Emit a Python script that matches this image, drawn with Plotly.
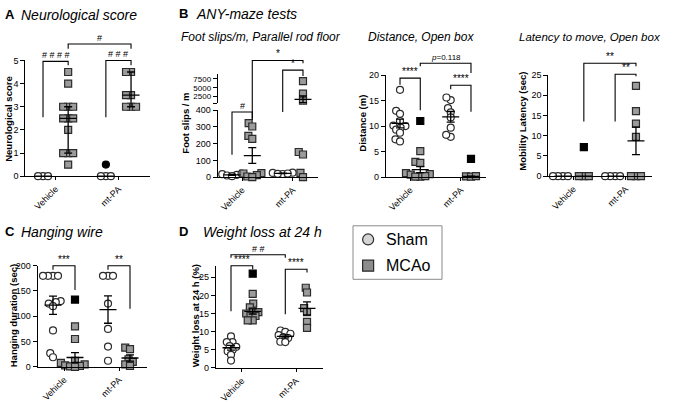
import numpy as np
import plotly.graph_objects as go

W, H = 673, 403
FONT = "Liberation Sans, Arial, sans-serif"

# ---------------- data ----------------
groups = ["Vehicle", "mt-PA"]

neuro_veh_sham = [0, 0, 0]
neuro_veh_mcao = [4.5, 4, 3, 3, 3, 2.5, 2.5, 2.5, 2, 1, 1, 1, 0.5]
neuro_tpa_sham = [0, 0, 0]
neuro_tpa_sham_out = [0.5]
neuro_tpa_mcao = [4.5, 4.5, 3.5, 3.5, 3, 3, 3]

foot_veh_sham = [18, 10, 14, 22, 6]
foot_veh_mcao = [322, 302, 246, 228, 24, 22, 12, 4, 0]
foot_tpa_sham = [25, 19, 27, 20, 22]
foot_tpa_mcao = [6900, 3300, 1300, 150, 135, 25, 0]

dist_veh_sham = [17.1, 13.0, 12.4, 11.0, 10.1, 10.0, 9.7, 9.3, 8.7, 7.4, 7.0]
dist_veh_mcao = [5.1, 3.0, 2.8, 0.8, 0.5, 0.6, 0.1, 0.2, 0.1]
dist_veh_mcao_out = [11.0]
dist_tpa_sham = [15.1, 15.6, 13.5, 12.7, 11.7, 9.7, 7.9, 8.3]
dist_tpa_mcao = [0.15, 0.1, 0.2]
dist_tpa_mcao_out = [3.6]

lat_veh_sham = [0, 0, 0, 0]
lat_veh_mcao = [0, 0, 0]
lat_veh_mcao_out = [7.2]
lat_tpa_sham = [0, 0, 0, 0]
lat_tpa_mcao = [22.3, 16.1, 13.0, 9.7, 0, 0, 0]

hang_veh_sham = [180, 180, 180, 180, 130, 128, 125, 120, 72, 27, 19]
hang_veh_mcao = [80, 55, 12, 8, 5, 3, 2, 1, 0]
hang_veh_mcao_out = [133]
hang_tpa_sham = [180, 180, 180, 125, 75, 40, 12]
hang_tpa_mcao = [38, 35, 15, 10, 5, 2]

wl_veh_sham = [8.7, 7.1, 7.1, 6.0, 5.8, 4.9, 4.6, 3.6, 2.0]
wl_veh_mcao = [20.4, 17.7, 16.7, 15.6, 15.4, 15.0, 14.3, 14.3, 13.1, 13.1]
wl_veh_mcao_out = [26.0]
wl_tpa_sham = [10.3, 9.9, 9.4, 9.0, 8.5, 8.2, 7.2, 7.1]
wl_tpa_mcao = [22.1, 20.8, 16.5, 15.4, 12.7, 11.0]

# ---------------- layout config ----------------
POS = [1.0, 2.0, 3.5, 4.5]
XR = [0.3, 5.25]
GROUP_TICKS = [1.5, 4.0]

panels = {
    'A': dict(x='x', y='y', xd=(25.4, 149.9), yd=(57, 176), yr=(0, 5), tv=[0, 1, 2, 3, 4, 5], stat='median',
              ylab="Neurological score", ylab_pos=(9, 117),
              data=[(neuro_veh_sham, [], 's'), (neuro_veh_mcao, [], 'm'),
                    (neuro_tpa_sham, neuro_tpa_sham_out, 's'), (neuro_tpa_mcao, [], 'm')]),
    'F': dict(x='x2', y='y2', xd=(217.8, 318.2), yd=(108, 177), yr=(0, 400), tv=[0, 100, 200, 300, 400], stat='mean',
              y_up='y3', yd_up=(71, 101), yr_up=(560, 8900), tv_up=[560, 2500, 5000, 7500],
              ylab="Foot slips / m", ylab_pos=(186, 122),
              data=[(foot_veh_sham, [], 's'), (foot_veh_mcao, [], 'm'),
                    (foot_tpa_sham, [], 's'), (foot_tpa_mcao, [], 'm')]),
    'Di': dict(x='x3', y='y4', xd=(385.8, 486.2), yd=(72, 177), yr=(0, 20), tv=[0, 5, 10, 15, 20], stat='mean',
               ylab="Distance (m)", ylab_pos=(363, 122),
               data=[(dist_veh_sham, [], 's'), (dist_veh_mcao, dist_veh_mcao_out, 'm'),
                     (dist_tpa_sham, [], 's'), (dist_tpa_mcao, dist_tpa_mcao_out, 'm')]),
    'L': dict(x='x4', y='y5', xd=(548.4, 651.6), yd=(72, 176), yr=(0, 25), tv=[0, 5, 10, 15, 20, 25], stat='mean',
              ylab="Mobility Latency (sec)", ylab_pos=(523, 120),
              data=[(lat_veh_sham, [], 's'), (lat_veh_mcao, lat_veh_mcao_out, 'm'),
                    (lat_tpa_sham, [], 's'), (lat_tpa_mcao, [], 'm')]),
    'C': dict(x='x5', y='y6', xd=(37.6, 146.5), yd=(268, 372), yr=(0, 200), tv=[0, 50, 100, 150, 200], stat='mean',
              ylab="Hanging duration (sec)", ylab_pos=(13, 320),
              data=[(hang_veh_sham, [], 's'), (hang_veh_mcao, hang_veh_mcao_out, 'm'),
                    (hang_tpa_sham, [], 's'), (hang_tpa_mcao, [], 'm')]),
    'W': dict(x='x6', y='y7', xd=(215.8, 323.3), yd=(268, 373), yr=(0, 28.2), tv=[0, 5, 10, 15, 20, 25], stat='mean',
              ylab="Weight loss at 24 h (%)", ylab_pos=(195, 320),
              data=[(wl_veh_sham, [], 's'), (wl_veh_mcao, wl_veh_mcao_out, 'm'),
                    (wl_tpa_sham, [], 's'), (wl_tpa_mcao, [], 'm')]),
}

# brackets: (panel, x1, x2, y_left_bottom, y_top, y_right_bottom, label, fontsize)
brackets = [
    ('A', 1, 2, 2.55, 4.96, 4.79, "# # # #", 9),
    ('A', 3.5, 4.5, 2.55, 5.0, 4.79, "# # #", 9),
    ('A', 2, 4.5, 5.5, 5.71, 5.5, "#", 9),
    ('F', 1, 2, 133, 388, 348, "#", 9),
    ('F', 3.5, 4.5, 388, ('up', 10012), ('up', 8344), "*", 10),
    ('F', 2, 4.5, 342, ('up', 12792), ('up', 12000), "*", 10),
    ('Di', 1, 2, 18.1, 19.4, 13.1, "****", 10),
    ('Di', 3.5, 4.5, 17.2, 18.0, 12.8, "****", 10),
    ('Di', 2, 4.5, 21.7, 22.3, 20.4, "<i>p</i>=0.118", 8),
    ('L', 2, 4.5, 13.5, 27.9, 27.2, "**", 10),
    ('L', 3.5, 4.5, 13.5, 25.2, 24.7, "**", 10),
    ('C', 1, 2, 192, 200, 152, "***", 10),
    ('C', 3.5, 4.5, 192, 200, 115, "**", 10),
    ('W', 1, 2, 15.6, 28.2, 27.2, "****", 10),
    ('W', 3.5, 4.5, 14.8, 27.2, 26.3, "****", 10),
    ('W', 1, 3.5, 30.4, 31.2, 30.4, "# #", 9),
]

SHAM_FILL = "white"
MCAO_FILL = "#9b9b9b"
EDGE = "#2b2b2b"
MS = 7
SWARM_D = 5.0


def ypx(p, v, up=False):
    if up or ('y_up' in p and v > p['yr'][1]):
        lo, hi = p['yr_up']; top, bot = p['yd_up']
    else:
        lo, hi = p['yr']; top, bot = p['yd']
    return bot - (v - lo) / (hi - lo) * (bot - top)


def yaxis_for(p, v):
    if 'y_up' in p and v > p['yr'][1]:
        return p['y_up']
    return p['y']


def spec_px(p, s):
    if isinstance(s, tuple):
        return ypx(p, s[1], up=True)
    return ypx(p, s)


def swarm(vals, p, d):
    order = sorted(range(len(vals)), key=lambda i: vals[i])
    placed = []
    offs = [0.0] * len(vals)
    for i in order:
        y = ypx(p, vals[i])
        cands = [0.0]
        for (qx, qy) in placed:
            dy = abs(qy - y)
            if dy < d:
                dx = (d * d - dy * dy) ** 0.5
                cands += [qx + dx, qx - dx]
        cands.sort(key=lambda c: (abs(c), c))
        chosen = cands[-1]
        for c in cands:
            if all((c - qx) ** 2 + (y - qy) ** 2 >= d * d - 1e-6 for qx, qy in placed):
                chosen = c
                break
        placed.append((chosen, y))
        offs[i] = chosen
    return offs


fig = go.Figure()
shapes = []
annotations = []


def line_trace(p, xs, ys, yaxis):
    fig.add_trace(go.Scatter(x=xs, y=ys, xaxis=p['x'], yaxis=yaxis, mode='lines',
                             line=dict(color='black', width=1.3), hoverinfo='skip',
                             showlegend=False, cliponaxis=False))


for key, p in panels.items():
    sx = (p['xd'][1] - p['xd'][0]) / (XR[1] - XR[0])
    # points
    for gi, (vals, outl, kind) in enumerate(p['data']):
        allv = list(vals) + list(outl)
        flags = [False] * len(vals) + [True] * len(outl)
        offs = swarm(allv, p, SWARM_D)
        buckets = {}
        for v, o, f in zip(allv, offs, flags):
            k = (yaxis_for(p, v), f)
            buckets.setdefault(k, ([], []))
            buckets[k][0].append(POS[gi] + o / sx)
            buckets[k][1].append(v)
        for (ya, f), (xs, ys) in buckets.items():
            fill = 'black' if f else (SHAM_FILL if kind == 's' else MCAO_FILL)
            fig.add_trace(go.Scatter(
                x=xs, y=ys, xaxis=p['x'], yaxis=ya, mode='markers', cliponaxis=False,
                marker=dict(symbol='circle' if kind == 's' else 'square', size=MS, color=fill,
                            line=dict(color=EDGE if not f else 'black', width=1.2)),
                hoverinfo='skip', showlegend=False))
    # summary lines
    for gi, (vals, outl, kind) in enumerate(p['data']):
        v = np.array(vals, dtype=float)
        if p['stat'] == 'median':
            c = np.median(v)
            lo = np.percentile(v, 25, method='weibull')
            hi = np.percentile(v, 75, method='weibull')
        else:
            c = v.mean()
            sem = v.std(ddof=1) / np.sqrt(len(v))
            lo, hi = c - sem, c + sem
        ya = yaxis_for(p, c)
        x0 = POS[gi]
        mw = 8.5 / sx
        cw = 4.0 / sx
        line_trace(p, [x0 - mw, x0 + mw], [c, c], ya)
        if hi - lo > 0:
            line_trace(p, [x0, x0], [max(lo, 0), hi], ya)
            line_trace(p, [x0 - cw, x0 + cw], [hi, hi], ya)
            if lo >= 0:
                line_trace(p, [x0 - cw, x0 + cw], [lo, lo], ya)

# brackets
for (key, x1, x2, yl, yt, yr_, label, fs) in brackets:
    p = panels[key]
    pl, pt, pr = spec_px(p, yl), spec_px(p, yt), spec_px(p, yr_)
    path = f"M {x1},{1 - pl / H} L {x1},{1 - pt / H} L {x2},{1 - pt / H} L {x2},{1 - pr / H}"
    shapes.append(dict(type='path', path=path, xref=p['x'], yref='paper',
                       line=dict(color='black', width=1.1)))
    annotations.append(dict(x=(x1 + x2) / 2, y=1 - pt / H, xref=p['x'], yref='paper', text=label,
                            showarrow=False, xanchor='center', yanchor='bottom', yshift=-1,
                            font=dict(size=fs, color='black', family=FONT)))


def ann_px(text, x, y, size, xanchor='left', yanchor='middle', angle=0, color='black'):
    annotations.append(dict(x=x / W, y=1 - y / H, xref='paper', yref='paper', text=text,
                            showarrow=False, xanchor=xanchor, yanchor=yanchor, textangle=angle,
                            font=dict(size=size, color=color, family=FONT)))


titles = [("<b>A</b>", 3, 10, 13), ("<i>Neurological score</i>", 19, 10, 14),
          ("<b>B</b>", 177, 9, 13), ("<i>ANY-maze tests</i>", 194, 9, 14),
          ("<i>Foot slips/m, Parallel rod floor</i>", 179, 33, 12),
          ("<i>Distance, Open box</i>", 366, 33, 12),
          ("<i>Latency to move, Open box</i>", 517, 33, 11.5),
          ("<b>C</b>", 3, 233, 13), ("<i>Hanging wire</i>", 19, 233, 14),
          ("<b>D</b>", 177, 233, 13), ("<i>Weight loss at 24 h</i>", 201, 233, 14)]
for t, x, y, s in titles:
    ann_px(t, x, y, s)

for key, p in panels.items():
    ann_px("<b>" + p['ylab'] + "</b>", p['ylab_pos'][0], p['ylab_pos'][1], 9.5, xanchor='center', angle=-90)

# legend (hidden helper axes)
LEG = dict(x0=353, x1=442, y0=227, y1=282)
shapes.append(dict(type='rect', xref='paper', yref='paper', x0=LEG['x0'] / W, x1=LEG['x1'] / W,
                   y0=1 - LEG['y1'] / H, y1=1 - LEG['y0'] / H, line=dict(color='#8a8a8a', width=1)))
legend_items = ["Sham", "MCAo"]
fig.add_trace(go.Scatter(x=[0.17], y=[0.745], xaxis='x7', yaxis='y8', mode='markers',
                         marker=dict(symbol='circle', size=11, color='#d4d4d4', line=dict(color=EDGE, width=1.2)),
                         hoverinfo='skip', showlegend=False))
fig.add_trace(go.Scatter(x=[0.17], y=[0.255], xaxis='x7', yaxis='y8', mode='markers',
                         marker=dict(symbol='square', size=11, color='#8c8c8c', line=dict(color=EDGE, width=1.2)),
                         hoverinfo='skip', showlegend=False))
ann_px(legend_items[0], 384, 241, 16)
ann_px(legend_items[1], 384, 268, 16)

layout = dict(width=W, height=H, margin=dict(l=0, r=0, t=0, b=0), autosize=False,
              paper_bgcolor='white', plot_bgcolor='rgba(0,0,0,0)', showlegend=False,
              font=dict(family=FONT, color='black'), shapes=shapes, annotations=annotations)

for key, p in panels.items():
    xname = 'xaxis' + p['x'][1:]
    yname = 'yaxis' + p['y'][1:]
    layout[xname] = dict(domain=[p['xd'][0] / W, p['xd'][1] / W], range=XR, anchor=p['y'],
                         tickvals=GROUP_TICKS, ticktext=groups, tickangle=-45,
                         showline=True, linecolor='black', linewidth=1.2, ticks='outside', ticklen=3,
                         tickwidth=1.1, tickcolor='black', showgrid=False, zeroline=False,
                         tickfont=dict(size=9, color='black'), fixedrange=True)
    layout[yname] = dict(domain=[1 - p['yd'][1] / H, 1 - p['yd'][0] / H], range=list(p['yr']), anchor=p['x'],
                         tickvals=p['tv'], ticktext=[str(t) for t in p['tv']],
                         showline=True, linecolor='black', linewidth=1.2, ticks='outside', ticklen=4,
                         tickwidth=1.1, tickcolor='black', showgrid=False, zeroline=False,
                         tickfont=dict(size=9, color='black'), fixedrange=True)
    if 'y_up' in p:
        yn2 = 'yaxis' + p['y_up'][1:]
        layout[yn2] = dict(domain=[1 - p['yd_up'][1] / H, 1 - p['yd_up'][0] / H], range=list(p['yr_up']),
                           anchor=p['x'], tickvals=p['tv_up'],
                           ticktext=['' if t < 1000 else str(t) for t in p['tv_up']],
                           showline=True, linecolor='black', linewidth=1.2, ticks='outside', ticklen=4,
                           tickwidth=1.1, tickcolor='black', showgrid=False, zeroline=False,
                           tickfont=dict(size=8, color='black'), fixedrange=True)

layout['xaxis7'] = dict(domain=[LEG['x0'] / W, LEG['x1'] / W], range=[0, 1], visible=False, anchor='y8', fixedrange=True)
layout['yaxis8'] = dict(domain=[1 - LEG['y1'] / H, 1 - LEG['y0'] / H], range=[0, 1], visible=False, anchor='x7', fixedrange=True)

fig.update_layout(**layout)
fig.write_html("out.html", config={'displayModeBar': False},
               post_script="document.body.style.margin='0px';document.body.style.overflow='hidden';")
